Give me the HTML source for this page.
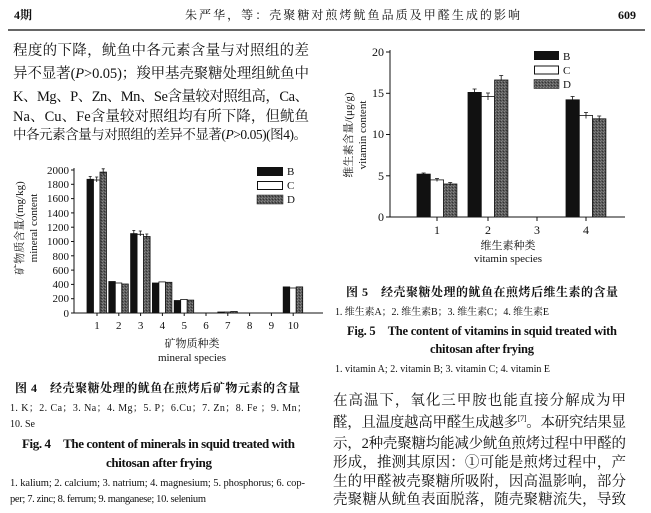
<!DOCTYPE html>
<html><head><meta charset="utf-8"><style>
html,body{margin:0;padding:0;background:#fff;}
svg{display:block;}
text{font-family:"Liberation Serif","Noto Serif CJK SC","Noto Sans CJK SC",serif;fill:#111;}
.b{font-weight:bold;}
</style></head><body>
<svg width="651" height="513" viewBox="0 0 651 513" xmlns="http://www.w3.org/2000/svg">
<defs>
<pattern id="dp" width="3" height="3" patternUnits="userSpaceOnUse">
<rect width="3" height="3" fill="#5c5c5c"/><rect x="0" y="0" width="1" height="1" fill="#888"/><rect x="2" y="1" width="1" height="1" fill="#333"/><rect x="1" y="2" width="1" height="1" fill="#7a7a7a"/>
</pattern>
</defs>
<text x="14" y="19" font-size="12" class="b">4期</text>
<text x="185" y="19" font-size="12" textLength="335">朱严华，等：壳聚糖对煎烤鱿鱼品质及甲醛生成的影响</text>
<text x="618" y="19" font-size="12" class="b">609</text>
<line x1="8" y1="30" x2="645" y2="30" stroke="#333" stroke-width="1.5"/>

<g font-size="14.5">
<text x="13" y="55" textLength="296">程度的下降，鱿鱼中各元素含量与对照组的差</text>
<text x="13" y="78" textLength="296">异不显著(<tspan font-style="italic">P</tspan>&gt;0.05)；羧甲基壳聚糖处理组鱿鱼中</text>
<text x="13" y="101" textLength="296">K、Mg、P、Zn、Mn、Se含量较对照组高，Ca、</text>
<text x="13" y="121" textLength="296">Na、Cu、Fe含量较对照组均有所下降，但鱿鱼</text>
</g>
<text x="13" y="139" font-size="13.5" textLength="294">中各元素含量与对照组的差异不显著(<tspan font-style="italic">P</tspan>&gt;0.05)(图4)。</text>

<g stroke="#111" stroke-width="1" fill="none">
<line x1="74" y1="168" x2="74" y2="313"/>
<line x1="74" y1="313" x2="323" y2="313"/>
<g>
<line x1="71" y1="170" x2="74" y2="170"/><line x1="71" y1="184.3" x2="74" y2="184.3"/><line x1="71" y1="198.6" x2="74" y2="198.6"/><line x1="71" y1="212.9" x2="74" y2="212.9"/><line x1="71" y1="227.2" x2="74" y2="227.2"/><line x1="71" y1="241.5" x2="74" y2="241.5"/><line x1="71" y1="255.8" x2="74" y2="255.8"/><line x1="71" y1="270.1" x2="74" y2="270.1"/><line x1="71" y1="284.4" x2="74" y2="284.4"/><line x1="71" y1="298.7" x2="74" y2="298.7"/><line x1="71" y1="313" x2="74" y2="313"/>
</g>
<g>
<line x1="97" y1="313" x2="97" y2="316"/><line x1="118.8" y1="313" x2="118.8" y2="316"/><line x1="140.6" y1="313" x2="140.6" y2="316"/><line x1="162.4" y1="313" x2="162.4" y2="316"/><line x1="184.2" y1="313" x2="184.2" y2="316"/><line x1="206" y1="313" x2="206" y2="316"/><line x1="227.8" y1="313" x2="227.8" y2="316"/><line x1="249.6" y1="313" x2="249.6" y2="316"/><line x1="271.4" y1="313" x2="271.4" y2="316"/><line x1="293.2" y1="313" x2="293.2" y2="316"/>
</g>
</g>
<g font-size="11" text-anchor="end">
<text x="69" y="174">2000</text><text x="69" y="188">1800</text><text x="69" y="202">1600</text><text x="69" y="217">1400</text><text x="69" y="231">1200</text><text x="69" y="245">1000</text><text x="69" y="260">800</text><text x="69" y="274">600</text><text x="69" y="288">400</text><text x="69" y="302">200</text><text x="69" y="317">0</text>
</g>
<g font-size="11" text-anchor="middle">
<text x="97" y="329">1</text><text x="118.8" y="329">2</text><text x="140.6" y="329">3</text><text x="162.4" y="329">4</text><text x="184.2" y="329">5</text><text x="206" y="329">6</text><text x="227.8" y="329">7</text><text x="249.6" y="329">8</text><text x="271.4" y="329">9</text><text x="293.2" y="329">10</text>
</g>
<text x="192" y="347" font-size="11" text-anchor="middle">矿物质种类</text>
<text x="192" y="361" font-size="11" text-anchor="middle">mineral species</text>
<text transform="translate(23,228) rotate(-90)" font-size="11" text-anchor="middle">矿物质含量/(mg/kg)</text>
<text transform="translate(37,228) rotate(-90)" font-size="11" text-anchor="middle">mineral content</text>
<g stroke="#111" stroke-width="0.8">
<rect x="87" y="179.3" width="6.5" height="133.7" fill="#111"/>
<rect x="93.5" y="180" width="6.5" height="133" fill="#fff"/>
<rect x="100" y="172.1" width="6.5" height="140.9" fill="url(#dp)"/>
<rect x="108.8" y="281.5" width="6.5" height="31.5" fill="#111"/>
<rect x="115.3" y="283" width="6.5" height="30" fill="#fff"/>
<rect x="121.8" y="284" width="6.5" height="29" fill="url(#dp)"/>
<rect x="130.6" y="233.6" width="6.5" height="79.4" fill="#111"/>
<rect x="137.1" y="234.3" width="6.5" height="78.7" fill="#fff"/>
<rect x="143.6" y="236.5" width="6.5" height="76.5" fill="url(#dp)"/>
<rect x="152.4" y="283" width="6.5" height="30" fill="#111"/>
<rect x="158.9" y="281.9" width="6.5" height="31.1" fill="#fff"/>
<rect x="165.4" y="282.3" width="6.5" height="30.7" fill="url(#dp)"/>
<rect x="174.2" y="300.5" width="6.5" height="12.5" fill="#111"/>
<rect x="180.7" y="299.4" width="6.5" height="13.6" fill="#fff"/>
<rect x="187.2" y="300.1" width="6.5" height="12.9" fill="url(#dp)"/>
<rect x="217.8" y="312" width="6.5" height="1" fill="#111"/>
<rect x="224.3" y="312" width="6.5" height="1" fill="#fff"/>
<rect x="230.8" y="311.5" width="6.5" height="1.5" fill="url(#dp)"/>
<rect x="283.2" y="286.9" width="6.5" height="26.1" fill="#111"/>
<rect x="289.7" y="288" width="6.5" height="25" fill="#fff"/>
<rect x="296.2" y="286.9" width="6.5" height="26.1" fill="url(#dp)"/>
</g>
<g stroke="#111" stroke-width="0.8" fill="none">
<path d="M90.2 176.5v5M88.7 176.5h3M96.7 177v5M95.2 177h3M103.2 168.8v6M101.7 168.8h3"/>
<path d="M133.8 230.5v5M132.3 230.5h3M140.3 231v5M138.8 231h3M146.8 234v4M145.3 234h3"/>
</g>
<rect x="257" y="167" width="26" height="9" fill="#111"/>
<rect x="257.5" y="181.5" width="25" height="8" fill="#fff" stroke="#111"/>
<rect x="257" y="195" width="26" height="9" fill="url(#dp)" stroke="#111" stroke-width="0.5"/>
<g font-size="11"><text x="287" y="175">B</text><text x="287" y="189">C</text><text x="287" y="203">D</text></g>

<g stroke="#111" stroke-width="1" fill="none">
<line x1="390" y1="50" x2="390" y2="217"/>
<line x1="390" y1="217" x2="625" y2="217"/>
<line x1="386" y1="52" x2="390" y2="52"/><line x1="386" y1="93.3" x2="390" y2="93.3"/><line x1="386" y1="134.5" x2="390" y2="134.5"/><line x1="386" y1="175.8" x2="390" y2="175.8"/><line x1="386" y1="217" x2="390" y2="217"/>
<line x1="437" y1="217" x2="437" y2="221"/><line x1="488" y1="217" x2="488" y2="221"/><line x1="537" y1="217" x2="537" y2="221"/><line x1="586" y1="217" x2="586" y2="221"/>
</g>
<g font-size="12" text-anchor="end">
<text x="384" y="56">20</text><text x="384" y="97">15</text><text x="384" y="138">10</text><text x="384" y="180">5</text><text x="384" y="221">0</text>
</g>
<g font-size="12" text-anchor="middle">
<text x="437" y="234">1</text><text x="488" y="234">2</text><text x="537" y="234">3</text><text x="586" y="234">4</text>
</g>
<text x="508" y="249" font-size="11" text-anchor="middle">维生素种类</text>
<text x="508" y="262" font-size="11" text-anchor="middle">vitamin species</text>
<text transform="translate(352,135) rotate(-90)" font-size="11" text-anchor="middle">维生素含量/(μg/g)</text>
<text transform="translate(366,135) rotate(-90)" font-size="11" text-anchor="middle">vitamin content</text>
<g stroke="#111" stroke-width="0.8">
<rect x="417" y="174.1" width="13.3" height="42.9" fill="#111"/>
<rect x="430.3" y="179.9" width="13.3" height="37.1" fill="#fff"/>
<rect x="443.6" y="184" width="13.3" height="33" fill="url(#dp)"/>
<rect x="468" y="92.4" width="13.3" height="124.6" fill="#111"/>
<rect x="481.3" y="96.5" width="13.3" height="120.5" fill="#fff"/>
<rect x="494.6" y="80" width="13.3" height="137" fill="url(#dp)"/>
<rect x="566" y="99.8" width="13.3" height="117.2" fill="#111"/>
<rect x="579.3" y="115.5" width="13.3" height="101.5" fill="#fff"/>
<rect x="592.6" y="118.8" width="13.3" height="98.2" fill="url(#dp)"/>
</g>
<g stroke="#111" stroke-width="0.8" fill="none">
<path d="M423.6 173v2M421.6 173h4M437 178.5v3M435 178.5h4M450.2 182.5v3M448.2 182.5h4"/>
<path d="M474.6 89v4M472.6 89h4M488 93v7M486 93h4M501.2 75.5v5M499.2 75.5h4"/>
<path d="M572.6 96.5v4M570.6 96.5h4M586 112.5v6M584 112.5h4M599.2 116v5M597.2 116h4"/>
</g>
<rect x="534" y="51" width="25" height="9" fill="#111"/>
<rect x="534.5" y="66" width="24" height="8" fill="#fff" stroke="#111"/>
<rect x="534" y="79.5" width="25" height="9" fill="url(#dp)" stroke="#111" stroke-width="0.5"/>
<g font-size="11"><text x="563" y="60">B</text><text x="563" y="74">C</text><text x="563" y="88">D</text></g>

<text x="15" y="392" font-size="12" class="b" textLength="285">图 4　经壳聚糖处理的鱿鱼在煎烤后矿物元素的含量</text>
<text x="10" y="411" font-size="10" textLength="297">1. K；2. Ca；3. Na；4. Mg；5. P；6.Cu；7. Zn；8. Fe ；9. Mn；</text>
<text x="10" y="427" font-size="10">10. Se</text>
<text x="22" y="448" font-size="13" class="b" textLength="273">Fig. 4　The content of minerals in squid treated with</text>
<text x="106" y="467" font-size="13" class="b" textLength="106">chitosan after frying</text>
<text x="10" y="486" font-size="10.5" textLength="295">1. kalium; 2. calcium; 3. natrium; 4. magnesium; 5. phosphorus; 6. cop-</text>
<text x="10" y="502" font-size="10.5" textLength="196">per; 7. zinc; 8. ferrum; 9. manganese; 10. selenium</text>

<text x="346" y="296" font-size="12" class="b" textLength="272">图 5　经壳聚糖处理的鱿鱼在煎烤后维生素的含量</text>
<text x="335" y="315" font-size="10" textLength="214">1. 维生素A；2. 维生素B；3. 维生素C；4. 维生素E</text>
<text x="347" y="335" font-size="12.5" class="b" textLength="270">Fig. 5　The content of vitamins in squid treated with</text>
<text x="430" y="353" font-size="12.5" class="b" textLength="104">chitosan after frying</text>
<text x="335" y="372" font-size="10" textLength="215">1. vitamin A; 2. vitamin B; 3. vitamin C; 4. vitamin E</text>

<g font-size="14.5">
<text x="333" y="405" textLength="293">在高温下，氧化三甲胺也能直接分解成为甲</text>
<text x="333" y="427" textLength="293">醛，且温度越高甲醛生成越多<tspan font-size="8" dy="-6">[7]</tspan><tspan dy="6">。本研究结果显</tspan></text>
<text x="333" y="448" textLength="293">示，2种壳聚糖均能减少鱿鱼煎烤过程中甲醛的</text>
<text x="333" y="467" textLength="293">形成，推测其原因：①可能是煎烤过程中，产</text>
<text x="333" y="486" textLength="293">生的甲醛被壳聚糖所吸附，因高温影响，部分</text>
<text x="333" y="504" textLength="293">壳聚糖从鱿鱼表面脱落，随壳聚糖流失，导致</text>
</g>
</svg>
</body></html>
